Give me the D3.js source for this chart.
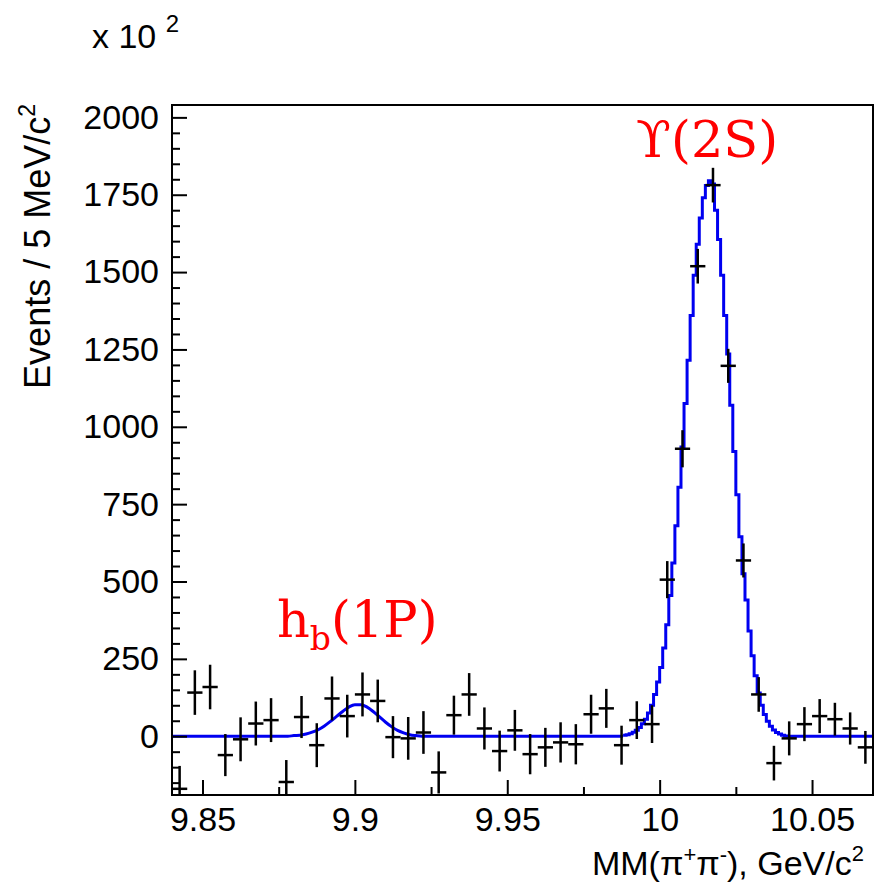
<!DOCTYPE html>
<html>
<head>
<meta charset="utf-8">
<script src="https://cdn.jsdelivr.net/npm/d3@7"></script>
<style>
  body { margin: 0; background: #fff; }
  svg { display: block; }
</style>
</head>
<body>
<div id="chart"></div>
<script>
// bin centres (GeV/c^2), 5 MeV bins
const massCenter = [9.8425, 9.8475, 9.8525, 9.8575, 9.8625, 9.8675, 9.8725, 9.8775, 9.8825, 9.8875,
  9.8925, 9.8975, 9.9025, 9.9075, 9.9125, 9.9175, 9.9225, 9.9275, 9.9325, 9.9375,
  9.9425, 9.9475, 9.9525, 9.9575, 9.9625, 9.9675, 9.9725, 9.9775, 9.9825, 9.9875,
  9.9925, 9.9975, 10.0025, 10.0075, 10.0125, 10.0175, 10.0225, 10.0275, 10.0325, 10.0375,
  10.0425, 10.0475, 10.0525, 10.0575, 10.0625, 10.0675]
const binWidth = 0.005
// events (x 10^2)
const events = [-170, 141, 159, -61, -10, 41, 52, -148, 62, -29,
  122, 65, 135, 114, -3, -7, 12, -117, 68, 135,
  25, -48, 19, -58, -36, -20, -26, 71, 90, -29,
  52, 39, 506, 929, 1519, 1781, 1197, 568, 135, -87,
  -7, 39, 65, 55, 25, -36]
const errors = [74, 72, 72, 68, 71, 71, 71, 71, 68, 71,
  71, 69, 71, 69, 68, 69, 69, 68, 63, 69,
  68, 66, 66, 65, 63, 65, 65, 63, 63, 63,
  61, 61, 60, 60, 56, 56, 55, 55, 56, 56,
  55, 55, 55, 53, 52, 53]

// fit: smooth part (baseline + h_b(1P) bump)
const fitSmoothMass = [9.84, 9.876, 9.878, 9.880, 9.882, 9.884, 9.886, 9.888, 9.890, 9.892, 9.894,
  9.896, 9.898, 9.900, 9.902, 9.904, 9.906, 9.908, 9.910, 9.912, 9.914,
  9.916, 9.918, 9.920, 9.922, 9.924, 9.988]
const fitSmoothValue = [0, 0, 0, 2, 3, 7, 13, 21, 33, 48, 64,
  80, 94, 102, 102, 94, 80, 63, 46, 31, 19,
  11, 5, 2, 0, 0, 0]
// fit: Upsilon(2S) peak drawn in 1 MeV steps
const fitStepMass = [9.988, 9.989, 9.990, 9.991, 9.992, 9.993, 9.994, 9.995, 9.996, 9.997,
  9.998, 9.999, 10.000, 10.001, 10.002, 10.003, 10.004, 10.005, 10.006, 10.007,
  10.008, 10.009, 10.010, 10.011, 10.012, 10.013, 10.014, 10.015, 10.016, 10.017,
  10.018, 10.019, 10.020, 10.021, 10.022, 10.023, 10.024, 10.025, 10.026, 10.027,
  10.028, 10.029, 10.030, 10.031, 10.032, 10.033, 10.034, 10.035, 10.036, 10.037,
  10.038, 10.039, 10.040, 10.041, 10.042, 10.07]
const fitStepValue = [3, 5, 8, 13, 19, 28, 40, 55, 75, 100,
  135, 175, 222, 285, 360, 455, 560, 680, 805, 935,
  1075, 1215, 1360, 1490, 1590, 1675, 1740, 1780, 1795, 1785,
  1700, 1605, 1490, 1360, 1235, 1070, 920, 780, 645, 525,
  440, 340, 260, 195, 140, 100, 70, 48, 32, 20,
  12, 7, 3, 1, 0, 0]

const xTicks = [9.85, 9.9, 9.95, 10, 10.05]
const xTickLabels = ['9.85', '9.9', '9.95', '10', '10.05']
const xMinorTicks = [9.875, 9.925, 9.975, 10.025]
const yTicks = [0, 250, 500, 750, 1000, 1250, 1500, 1750, 2000]
const yTickLabels = ['0', '250', '500', '750', '1000', '1250', '1500', '1750', '2000']
const yMinorTicks = [-150, -100, -50, 50, 100, 150, 200, 300, 350, 400, 450, 550, 600, 650, 700,
  800, 850, 900, 950, 1050, 1100, 1150, 1200, 1300, 1350, 1400, 1450, 1550, 1600, 1650, 1700,
  1800, 1850, 1900, 1950]

const width = 874
const height = 885
const frame = { left: 172, right: 873, top: 105, bottom: 795 }
const sans = "'Liberation Sans', Arial, Helvetica, sans-serif"
const serif = "'DejaVu Serif', serif"

const x = d3.scaleLinear().domain([9.84, 10.07]).range([frame.left, frame.right])
const y = d3.scaleLinear().domain([-190, 2040]).range([frame.bottom, frame.top])

const svg = d3.select('#chart').append('svg')
  .attr('width', width)
  .attr('height', height)

svg.append('defs').append('clipPath').attr('id', 'plot-clip')
  .append('rect')
  .attr('x', frame.left).attr('y', frame.top)
  .attr('width', frame.right - frame.left)
  .attr('height', frame.bottom - frame.top)

const plot = svg.append('g').attr('clip-path', 'url(#plot-clip)')

// fit curve
const smoothLine = d3.line().x(d => x(d[0])).y(d => y(d[1])).curve(d3.curveMonotoneX)
const stepLine = d3.line().x(d => x(d[0])).y(d => y(d[1])).curve(d3.curveStepAfter)

plot.append('path')
  .datum(fitSmoothMass.map((m, i) => [m, fitSmoothValue[i]]))
  .attr('d', smoothLine)
  .attr('fill', 'none')
  .attr('stroke', '#0000f0')
  .attr('stroke-width', 3)

plot.append('path')
  .datum(fitStepMass.map((m, i) => [m, fitStepValue[i]]))
  .attr('d', stepLine)
  .attr('fill', 'none')
  .attr('stroke', '#0000f0')
  .attr('stroke-width', 3)

// data points with errors
const points = plot.append('g')
  .attr('stroke', '#000')
  .attr('stroke-width', 2.5)
  .selectAll('g')
  .data(massCenter.map((m, i) => ({ m, v: events[i], e: errors[i] })))
  .join('g')

points.append('line')
  .attr('x1', d => x(d.m)).attr('x2', d => x(d.m))
  .attr('y1', d => y(d.v - d.e)).attr('y2', d => y(d.v + d.e))
points.append('line')
  .attr('x1', d => x(d.m - binWidth / 2)).attr('x2', d => x(d.m + binWidth / 2))
  .attr('y1', d => y(d.v)).attr('y2', d => y(d.v))

// axes
const fontSize = 34

const yAxis = svg.append('g')
  .attr('transform', `translate(${frame.left},0)`)
  .call(d3.axisLeft(y).tickValues(yTicks).tickSize(-15).tickPadding(13)
    .tickFormat((d, i) => yTickLabels[i]))
yAxis.select('.domain').remove()
yAxis.attr('font-family', sans).attr('font-size', fontSize)
yAxis.selectAll('text').attr('fill', '#000')
yAxis.selectAll('line').attr('stroke', '#000').attr('stroke-width', 2)

const yMinor = svg.append('g')
  .attr('transform', `translate(${frame.left},0)`)
  .call(d3.axisLeft(y).tickValues(yMinorTicks).tickSize(-8).tickFormat(''))
yMinor.select('.domain').remove()
yMinor.selectAll('line').attr('stroke', '#000').attr('stroke-width', 2)

const xAxis = svg.append('g')
  .attr('transform', `translate(0,${frame.bottom})`)
  .call(d3.axisBottom(x).tickValues(xTicks).tickSize(-15).tickPadding(12)
    .tickFormat((d, i) => xTickLabels[i]))
xAxis.select('.domain').remove()
xAxis.attr('font-family', sans).attr('font-size', fontSize)
xAxis.selectAll('text').attr('fill', '#000')
xAxis.selectAll('line').attr('stroke', '#000').attr('stroke-width', 2)

const xMinor = svg.append('g')
  .attr('transform', `translate(0,${frame.bottom})`)
  .call(d3.axisBottom(x).tickValues(xMinorTicks).tickSize(-8).tickFormat(''))
xMinor.select('.domain').remove()
xMinor.selectAll('line').attr('stroke', '#000').attr('stroke-width', 2)

// frame
svg.append('rect')
  .attr('x', frame.left).attr('y', frame.top)
  .attr('width', frame.right - frame.left)
  .attr('height', frame.bottom - frame.top)
  .attr('fill', 'none')
  .attr('stroke', '#000')
  .attr('stroke-width', 2)

// titles
const xTitle = svg.append('text')
  .attr('x', 864).attr('y', 875)
  .attr('text-anchor', 'end')
  .attr('font-family', sans)
  .attr('font-size', fontSize)
xTitle.append('tspan').text('MM(\u03c0')
xTitle.append('tspan').attr('font-size', 22).attr('dy', -13).text('+')
xTitle.append('tspan').attr('dy', 13).text('\u03c0')
xTitle.append('tspan').attr('font-size', 22).attr('dy', -13).text('-')
xTitle.append('tspan').attr('dy', 13).text('), GeV/c')
xTitle.append('tspan').attr('font-size', 22).attr('dy', -14).text('2')

const yTitle = svg.append('text')
  .attr('transform', 'translate(50,104) rotate(-90)')
  .attr('text-anchor', 'end')
  .attr('font-family', sans)
  .attr('font-size', 36)
yTitle.append('tspan').text('Events / 5 MeV/c')
yTitle.append('tspan').attr('font-size', 23).attr('dy', -15).text('2')

const expLabel = svg.append('text')
  .attr('x', 92).attr('y', 48)
  .attr('font-family', sans)
  .attr('font-size', fontSize)
expLabel.append('tspan').text('x 10 ')
expLabel.append('tspan').attr('font-size', 24).attr('dy', -16).text('2')

// peak labels
svg.append('text')
  .attr('x', 636).attr('y', 157)
  .attr('fill', '#ff0000')
  .attr('font-family', serif)
  .attr('font-size', 51)
  .text('\u03d2(2S)')

const hb = svg.append('text')
  .attr('x', 277).attr('y', 637)
  .attr('fill', '#ff0000')
  .attr('font-family', serif)
  .attr('font-size', 51)
hb.append('tspan').text('h')
hb.append('tspan').attr('font-size', 33).attr('dy', 13).text('b')
hb.append('tspan').attr('dy', -13).text('(1P)')
</script>
</body>
</html>
